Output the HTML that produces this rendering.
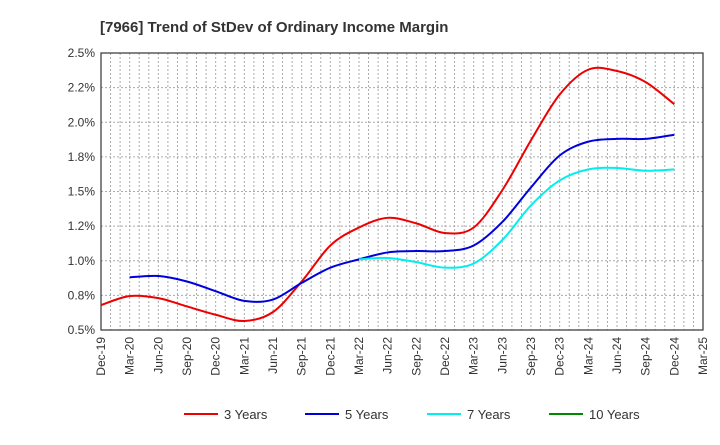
<!DOCTYPE html>
<html><head><meta charset="utf-8"><style>
body{margin:0;background:#fff;font-family:"Liberation Sans",sans-serif}
</style></head><body>
<svg id="c" width="720" height="440" xmlns="http://www.w3.org/2000/svg">
<text x="100" y="32" font-size="15" font-weight="bold" fill="#333">[7966]  Trend of StDev of Ordinary Income Margin</text>
<g id="grid"></g><g id="axes"></g><g id="series"></g><g id="legend"></g>
</svg>
<script>
const xLabels=["Dec-19","Mar-20","Jun-20","Sep-20","Dec-20","Mar-21","Jun-21","Sep-21","Dec-21","Mar-22","Jun-22","Sep-22","Dec-22","Mar-23","Jun-23","Sep-23","Dec-23","Mar-24","Jun-24","Sep-24","Dec-24","Mar-25"];
const yTicks=[0.5,0.75,1.0,1.25,1.5,1.75,2.0,2.25,2.5];
const yTickLabels=["0.5%","0.8%","1.0%","1.2%","1.5%","1.8%","2.0%","2.2%","2.5%"];
const s3=[0.68,0.745,0.73,0.67,0.61,0.565,0.63,0.85,1.11,1.24,1.31,1.27,1.2,1.24,1.51,1.87,2.2,2.38,2.37,2.29,2.13];
const s5=[null,0.88,0.89,0.85,0.78,0.71,0.72,0.84,0.95,1.01,1.06,1.07,1.07,1.11,1.28,1.53,1.76,1.86,1.88,1.88,1.91];
const s7=[null,null,null,null,null,null,null,null,null,1.01,1.02,0.99,0.95,0.98,1.15,1.4,1.58,1.66,1.67,1.65,1.66];
const s10=[];
const L=101,R=703,T=53,B=330;
const X=i=>L+i*(R-L)/(xLabels.length-1);
const Y=v=>B-(v-0.5)/2.0*(B-T);
const ns="http://www.w3.org/2000/svg";
function mk(t,a,p){const e=document.createElementNS(ns,t);for(const k in a)e.setAttribute(k,a[k]);p.appendChild(e);return e;}
const g=document.getElementById('grid'),ax=document.getElementById('axes'),se=document.getElementById('series'),lg=document.getElementById('legend');
for(let m=1;m<63;m++){const x=L+m*(R-L)/63;const l=mk('line',{x1:x,x2:x,y1:T,y2:B,stroke:'#aaa','stroke-dasharray':'2,2'},g);

}
yTicks.forEach((v,i)=>{const y=Y(v);if(i>0&&i<yTicks.length-1){const l=mk('line',{x1:L,x2:R,y1:y,y2:y,stroke:'#aaa','stroke-dasharray':'2,2'},g);

}
const t=mk('text',{x:L-6,y:y+4,'text-anchor':'end','font-size':12,fill:'#333'},ax);t.textContent=yTickLabels[i];

});
xLabels.forEach((s,i)=>{const x=X(i);const t=mk('text',{transform:`translate(${x+4},${B+7}) rotate(-90)`,'text-anchor':'end','font-size':12,fill:'#333'},ax);t.textContent=s;

});
const fr=mk('rect',{x:L,y:T,width:R-L,height:B-T,fill:'none',stroke:'#333','stroke-width':1.2},ax);


function path(arr){const p=[];arr.forEach((v,i)=>{if(v!=null)p.push([X(i),Y(v)]);});if(p.length<2)return '';
let d=`M${p[0][0]},${p[0][1]}`;for(let i=0;i<p.length-1;i++){const p0=p[i-1]||p[i],p1=p[i],p2=p[i+1],p3=p[i+2]||p2;
d+=`C${p1[0]+(p2[0]-p0[0])/6},${p1[1]+(p2[1]-p0[1])/6} ${p2[0]-(p3[0]-p1[0])/6},${p2[1]-(p3[1]-p1[1])/6} ${p2[0]},${p2[1]}`;}return d;}
const series=[[s3,'#e00','3 Years','series-3-years'],[s5,'#00d','5 Years','series-5-years'],[s7,'#0ee','7 Years','series-7-years'],[s10,'#080','10 Years','series-10-years']];
series.forEach(([a,c,n,dn],k)=>{const d=path(a);if(d){const p=mk('path',{d:d,fill:'none',stroke:c,'stroke-width':2},se);

}
const lx=[184,305,427,549][k];const gg=mk('g',{},lg);


mk('line',{x1:lx,x2:lx+34,y1:414,y2:414,stroke:c,'stroke-width':2},gg);
const t=mk('text',{x:lx+40,y:419,'font-size':13,fill:'#333'},gg);t.textContent=n;});
</script>
</body></html>
